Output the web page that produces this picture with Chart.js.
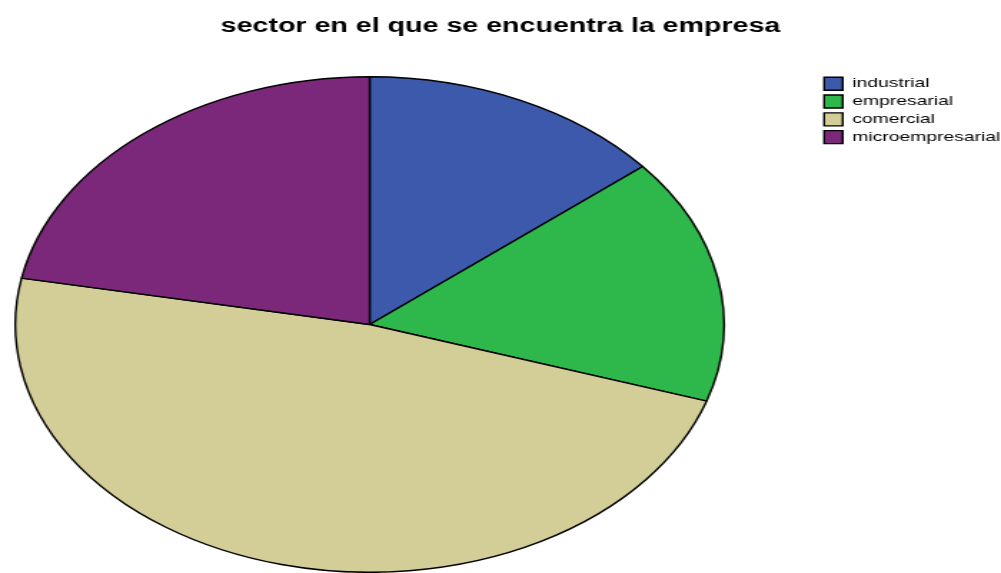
<!DOCTYPE html>
<html>
<head>
<meta charset="utf-8">
<script src="https://cdn.jsdelivr.net/npm/chart.js@4/dist/chart.umd.min.js"></script>
<style>
  html, body { margin: 0; padding: 0; background: #fff; }
</style>
</head>
<body>
<!-- el grafico original esta estirado en horizontal, se dibuja a 700px y se estira a 1001px -->
<canvas id="grafico" width="700" height="573" style="width:1001px;height:573px"></canvas>
<script>
var categorias = ['industrial', 'empresarial', 'comercial', 'microempresarial'];
var frecuencias = [7, 8, 24, 11];
var colores = ['#3d59ab', '#2eb84b', '#d3ce98', '#7b287a'];
var titulo = 'sector en el que se encuentra la empresa';

// mueve el pastel a la izquierda, dejando el hueco antes de la leyenda
var ajustarArea = {
	id: 'ajustarArea',
	afterLayout: function (chart) {
		var area = chart.chartArea;
		area.right = 517;
		area.width = area.right - area.left;
	}
};

var ctx = document.getElementById('grafico').getContext('2d');
new Chart(ctx, {
	type: 'pie',
	data: {
		labels: categorias,
		datasets: [{
			data: frecuencias,
			backgroundColor: colores,
			borderColor: '#000',
			borderWidth: 1.4
		}]
	},
	options: {
		responsive: false,
		devicePixelRatio: 1,
		animation: false,
		layout: { padding: 0 },
		plugins: {
			title: {
				display: true,
				text: titulo,
				color: '#000',
				font: { family: 'Liberation Sans, Arial, sans-serif', size: 20, weight: 'bold' },
				padding: { top: 14, bottom: 38 }
			},
			legend: {
				position: 'right',
				align: 'start',
				maxWidth: 128,
				// titulo vacio para bajar la leyenda
				title: {
					display: true,
					text: ' ',
					font: { size: 10, lineHeight: 1 },
					padding: { top: 62.7, bottom: 0 }
				},
				labels: {
					color: '#000',
					boxWidth: 13,
					boxHeight: 13,
					padding: 4.3,
					font: { family: 'Liberation Sans, Arial, sans-serif', size: 13.5 }
				}
			},
			tooltip: { enabled: false }
		}
	},
	plugins: [ajustarArea]
});
</script>
</body>
</html>
